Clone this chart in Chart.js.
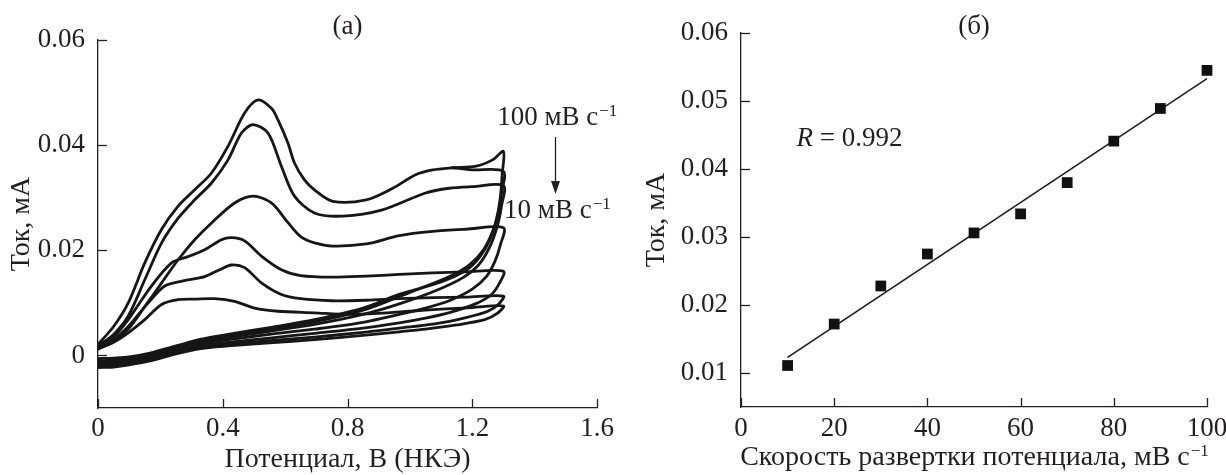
<!DOCTYPE html>
<html lang="ru">
<head>
<meta charset="utf-8">
<title>ЦВА и зависимость тока от скорости развертки</title>
<script src="https://cdn.jsdelivr.net/npm/chart.js@4.4.1/dist/chart.umd.min.js"></script>
<style>
  html, body { margin: 0; padding: 0; background: #fff; }
  #wrap { position: relative; width: 1226px; height: 475px; }
  canvas { position: absolute; top: 0; }
  #chartA { left: 0; z-index: 2; }
  #chartB { left: 613px; z-index: 1; }
</style>
</head>
<body>
<div id="wrap">
  <canvas id="chartA" width="640" height="475"></canvas>
  <canvas id="chartB" width="613" height="475"></canvas>
</div>
<script>
// (а) циклические вольтамперограммы: потенциал, В / ток, мА (прямой ход, затем обратный)
const cv1V = [0, 0.05, 0.097, 0.15, 0.204, 0.257, 0.31, 0.364, 0.417, 0.47, 0.513, 0.556, 0.577, 0.609, 0.63, 0.662, 0.694, 0.753, 0.86, 0.945, 1.02, 1.073, 1.137, 1.212, 1.265, 1.30,
  1.296, 1.29, 1.278, 1.258, 1.225, 1.18, 1.10, 0.966, 0.85, 0.694, 0.55, 0.417, 0.33, 0.25, 0.17, 0.1, 0.05, 0];
const cv1I = [0.0021, 0.0055, 0.0100, 0.0176, 0.0240, 0.0284, 0.0315, 0.0347, 0.0398, 0.0461, 0.0486, 0.0470, 0.0448, 0.0404, 0.0366, 0.0334, 0.0315, 0.0293, 0.0296, 0.0318, 0.0344, 0.0353, 0.0357, 0.0360, 0.0372, 0.0388,
  0.0345, 0.0300, 0.0260, 0.0222, 0.0188, 0.0162, 0.0140, 0.0116, 0.0090, 0.0068, 0.0053, 0.0040, 0.0031, 0.0018, 0.0005, -0.0003, -0.0005, -0.0006];

const cv1bV = [1.137, 1.2, 1.30, 1.294, 1.284, 1.265, 1.235, 1.19, 1.12, 1.0, 0.85, 0.694, 0.55, 0.417, 0.33, 0.25, 0.17, 0.1, 0.05, 0];
const cv1bI = [0.0357, 0.0353, 0.0350, 0.0310, 0.0272, 0.0235, 0.0200, 0.0172, 0.0148, 0.0120, 0.0086, 0.0064, 0.0050, 0.0038, 0.0029, 0.0016, 0.0003, -0.0006, -0.0009, -0.0010];

const cv2V = [0, 0.05, 0.097, 0.15, 0.204, 0.257, 0.31, 0.364, 0.417, 0.46, 0.497, 0.545, 0.588, 0.63, 0.694, 0.785, 0.912, 1.05, 1.126, 1.2, 1.30,
  1.294, 1.28, 1.255, 1.22, 1.17, 1.09, 0.966, 0.85, 0.694, 0.55, 0.417, 0.33, 0.25, 0.17, 0.1, 0.05, 0];
const cv2I = [0.0018, 0.0040, 0.0075, 0.0144, 0.0214, 0.0261, 0.0296, 0.0328, 0.0372, 0.0423, 0.0439, 0.0423, 0.0360, 0.0303, 0.0271, 0.0265, 0.0277, 0.0309, 0.0318, 0.0321, 0.0323,
  0.0285, 0.0245, 0.0205, 0.0172, 0.0148, 0.0125, 0.0098, 0.0078, 0.0059, 0.0046, 0.0034, 0.0026, 0.0014, 0.0001, -0.0008, -0.0012, -0.0013];

const cv3V = [0, 0.05, 0.097, 0.15, 0.204, 0.257, 0.31, 0.364, 0.438, 0.497, 0.556, 0.61, 0.65, 0.694, 0.753, 0.86, 0.966, 1.073, 1.18, 1.30,
  1.29, 1.272, 1.245, 1.2, 1.13, 1.05, 0.966, 0.85, 0.694, 0.55, 0.417, 0.33, 0.25, 0.17, 0.1, 0.05, 0];
const cv3I = [0.0015, 0.0028, 0.0050, 0.0093, 0.0138, 0.0182, 0.0220, 0.0252, 0.0290, 0.0303, 0.0290, 0.0252, 0.0226, 0.0214, 0.0208, 0.0212, 0.0228, 0.0236, 0.0240, 0.0243,
  0.0210, 0.0178, 0.0150, 0.0126, 0.0105, 0.0090, 0.0078, 0.0063, 0.0050, 0.0040, 0.0030, 0.0023, 0.0011, -0.0002, -0.0011, -0.0015, -0.0016];

const cv4V = [0, 0.05, 0.097, 0.17, 0.236, 0.289, 0.342, 0.396, 0.428, 0.47, 0.524, 0.588, 0.65, 0.75, 0.86, 0.966, 1.073, 1.18, 1.30,
  1.285, 1.26, 1.21, 1.13, 1.05, 0.966, 0.85, 0.694, 0.55, 0.417, 0.33, 0.25, 0.17, 0.1, 0.05, 0];
const cv4I = [0.0018, 0.0035, 0.0068, 0.0131, 0.0176, 0.0188, 0.0201, 0.0220, 0.0224, 0.0218, 0.0189, 0.0163, 0.0152, 0.0149, 0.0151, 0.0154, 0.0157, 0.0159, 0.0160,
  0.0135, 0.0115, 0.0098, 0.0082, 0.0071, 0.0062, 0.0052, 0.0042, 0.0033, 0.0025, 0.0019, 0.0008, -0.0005, -0.0014, -0.0018, -0.0019];

const cv5V = [0, 0.05, 0.097, 0.161, 0.214, 0.267, 0.342, 0.39, 0.428, 0.47, 0.524, 0.588, 0.65, 0.75, 0.86, 0.966, 1.073, 1.18, 1.30,
  1.285, 1.25, 1.18, 1.08, 0.966, 0.85, 0.694, 0.55, 0.417, 0.33, 0.25, 0.17, 0.1, 0.05, 0];
const cv5I = [0.0015, 0.0030, 0.0055, 0.0100, 0.0132, 0.0141, 0.0150, 0.0163, 0.0172, 0.0167, 0.0138, 0.0116, 0.0108, 0.0104, 0.0105, 0.0108, 0.0110, 0.0111, 0.0113,
  0.0098, 0.0084, 0.0072, 0.0060, 0.0052, 0.0044, 0.0035, 0.0028, 0.0021, 0.0016, 0.0005, -0.0008, -0.0016, -0.0020, -0.0021];

const cv6V = [0, 0.05, 0.097, 0.15, 0.204, 0.257, 0.31, 0.374, 0.438, 0.502, 0.577, 0.694, 0.8, 0.9, 1.0, 1.1, 1.2, 1.30,
  1.28, 1.24, 1.15, 1.05, 0.966, 0.85, 0.694, 0.55, 0.417, 0.33, 0.25, 0.17, 0.1, 0.05, 0];
const cv6I = [0.0012, 0.0025, 0.0043, 0.0068, 0.0097, 0.0106, 0.0107, 0.0108, 0.0103, 0.0090, 0.0084, 0.0081, 0.0078, 0.0080, 0.0084, 0.0088, 0.0091, 0.0094,
  0.0080, 0.0068, 0.0058, 0.0050, 0.0045, 0.0038, 0.0030, 0.0024, 0.0018, 0.0013, 0.0003, -0.0010, -0.0018, -0.0022, -0.0023];

const xTicksA = [0, 0.4, 0.8, 1.2, 1.6];
const yTicksA = [0, 0.02, 0.04, 0.06];

// (б) ток пика от скорости развертки
const scanRate = [10, 20, 30, 40, 50, 60, 70, 80, 90, 100];
const peakCurrent = [0.0111, 0.0172, 0.0228, 0.0275, 0.0306, 0.0334, 0.0380, 0.0441, 0.0489, 0.0545];
const fitRate = [10, 100];
const fitCurrent = [0.0123, 0.0533];

const xTicksB = [0, 20, 40, 60, 80, 100];
const yTicksB = [0.01, 0.02, 0.03, 0.04, 0.05, 0.06];

const serif = '"Liberation Serif", "Times New Roman", serif';
const ink = '#231f20';
const tickSize = 27;
const titleSize = 28;
const noteSize = 27;

Chart.defaults.font.family = serif;
Chart.defaults.color = ink;

const toPoints = (xs, ys) => xs.map((v, i) => ({ x: v, y: ys[i] }));
const fmtTick = (v) => String(Number(Number(v).toFixed(4)));

// текст со степенью (мВ с^-1)
function textWithPower(ctx, main, power, x, y, size, align) {
  const small = Math.round(size * 0.62);
  ctx.font = `${size}px ${serif}`;
  const w1 = ctx.measureText(main).width;
  ctx.font = `${small}px ${serif}`;
  const w2 = ctx.measureText(power).width;
  const left = align === 'center' ? x - (w1 + w2) / 2 : x;
  ctx.textAlign = 'left';
  ctx.textBaseline = 'alphabetic';
  ctx.font = `${size}px ${serif}`;
  ctx.fillText(main, left, y);
  ctx.font = `${small}px ${serif}`;
  ctx.fillText(power, left + w1 + 1, y - size * 0.33);
}

// засечки внутрь области графика
const innerTicks = {
  id: 'innerTicks',
  afterDraw(chart) {
    const { ctx, chartArea, scales: { x, y } } = chart;
    ctx.save();
    ctx.strokeStyle = ink;
    ctx.lineWidth = 1.3;
    x.ticks.forEach((t) => {
      const px = Math.round(x.getPixelForValue(t.value)) + 0.5;
      ctx.beginPath();
      ctx.moveTo(px, chartArea.bottom);
      ctx.lineTo(px, chartArea.bottom - 9);
      ctx.stroke();
    });
    y.ticks.forEach((t) => {
      const py = Math.round(y.getPixelForValue(t.value)) + 0.5;
      ctx.beginPath();
      ctx.moveTo(chartArea.left, py);
      ctx.lineTo(chartArea.left + 9, py);
      ctx.stroke();
    });
    ctx.restore();
  }
};

const notesA = {
  id: 'notesA',
  afterDraw(chart) {
    const { ctx, chartArea, scales: { x } } = chart;
    ctx.save();
    ctx.fillStyle = ink;
    ctx.strokeStyle = ink;
    ctx.font = `${noteSize}px ${serif}`;
    ctx.textAlign = 'center';
    ctx.textBaseline = 'middle';
    ctx.fillText('(а)', (chartArea.left + chartArea.right) / 2, 27);

    textWithPower(ctx, '100 мВ с', '−1', x.getPixelForValue(1.28), 125, noteSize, 'left');
    textWithPower(ctx, '10 мВ с', '−1', x.getPixelForValue(1.302), 218, noteSize, 'left');

    // стрелка
    const ax = Math.round(x.getPixelForValue(1.466)) + 0.5;
    ctx.lineWidth = 1.3;
    ctx.beginPath();
    ctx.moveTo(ax, 137);
    ctx.lineTo(ax, 185);
    ctx.stroke();
    ctx.beginPath();
    ctx.moveTo(ax - 4.5, 181);
    ctx.lineTo(ax + 4.5, 181);
    ctx.lineTo(ax, 194);
    ctx.closePath();
    ctx.fill();
    ctx.restore();
  }
};

const notesB = {
  id: 'notesB',
  afterDraw(chart) {
    const { ctx, chartArea, scales: { x } } = chart;
    ctx.save();
    ctx.fillStyle = ink;
    ctx.font = `${noteSize}px ${serif}`;
    ctx.textAlign = 'center';
    ctx.textBaseline = 'middle';
    const cx = (chartArea.left + chartArea.right) / 2;
    ctx.fillText('(б)', cx, 27);

    // R = 0.992
    const rx = x.getPixelForValue(11.9);
    ctx.textAlign = 'left';
    ctx.textBaseline = 'alphabetic';
    ctx.font = `italic ${noteSize}px ${serif}`;
    ctx.fillText('R', rx, 146);
    const rw = ctx.measureText('R').width;
    ctx.font = `${noteSize}px ${serif}`;
    ctx.fillText(' = 0.992', rx + rw, 146);

    // подпись оси X со степенью
    textWithPower(ctx, 'Скорость развертки потенциала, мВ с', '−1', cx, 465, titleSize, 'center');
    ctx.restore();
  }
};

function axisBase(ticksArr, min, max) {
  return {
    type: 'linear',
    min: min,
    max: max,
    afterBuildTicks: (s) => { s.ticks = ticksArr.map((v) => ({ value: v })); },
    grid: { display: false, drawTicks: false },
    border: { display: true, color: ink, width: 1.3 },
    ticks: { font: { size: tickSize }, color: ink, autoSkip: false, maxRotation: 0, callback: fmtTick }
  };
}

const cvSets = [
  [cv1V, cv1I], [cv1bV, cv1bI], [cv2V, cv2I], [cv3V, cv3I],
  [cv4V, cv4I], [cv5V, cv5I], [cv6V, cv6I]
];

const xA = axisBase(xTicksA, 0, 1.6);
xA.ticks.padding = 5;
xA.afterFit = (s) => { s.height = 475 - 408; s.paddingLeft = 0; s.paddingRight = 0; };
xA.title = { display: true, text: 'Потенциал, В (НКЭ)', color: ink, font: { size: titleSize, lineHeight: 1 }, padding: { top: 0, bottom: 1 } };

const yA = axisBase(yTicksA, -0.01, 0.06);
yA.ticks.padding = 13;
yA.afterFit = (s) => { s.width = 98; s.paddingTop = 0; s.paddingBottom = 0; };
yA.title = { display: true, text: 'Ток, мА', color: ink, font: { size: titleSize, lineHeight: 1 }, padding: { top: 8, bottom: 0 } };

new Chart(document.getElementById('chartA'), {
  type: 'scatter',
  data: {
    datasets: cvSets.map(([v, i]) => ({
      data: toPoints(v, i),
      showLine: true,
      borderColor: '#161616',
      borderWidth: 2.8,
      pointRadius: 0,
      tension: 0.3,
      borderJoinStyle: 'round',
      borderCapStyle: 'round',
      fill: false
    }))
  },
  options: {
    responsive: false,
    animation: false,
    devicePixelRatio: 1,
    layout: { padding: { top: 40, right: 43, left: 0, bottom: 0 } },
    plugins: { legend: { display: false }, tooltip: { enabled: false } },
    scales: { x: xA, y: yA }
  },
  plugins: [innerTicks, notesA]
});

const xB = axisBase(xTicksB, 0, 100);
xB.ticks.padding = 6;
xB.afterFit = (s) => { s.height = 475 - 407; s.paddingLeft = 0; s.paddingRight = 0; };

const yB = axisBase(yTicksB, 0.005, 0.06);
yB.ticks.padding = 13;
yB.afterFit = (s) => { s.width = 128; s.paddingTop = 0; s.paddingBottom = 0; };
yB.title = { display: true, text: 'Ток, мА', color: ink, font: { size: titleSize, lineHeight: 1 }, padding: { top: 30, bottom: 0 } };

new Chart(document.getElementById('chartB'), {
  type: 'scatter',
  data: {
    datasets: [
      {
        data: toPoints(scanRate, peakCurrent),
        pointStyle: 'rect',
        pointRadius: 7.6,
        backgroundColor: '#111',
        borderWidth: 0,
        clip: false
      },
      {
        data: toPoints(fitRate, fitCurrent),
        showLine: true,
        borderColor: '#1a1a1a',
        borderWidth: 1.6,
        pointRadius: 0
      }
    ]
  },
  options: {
    responsive: false,
    animation: false,
    devicePixelRatio: 1,
    layout: { padding: { top: 33, right: 19, left: 0, bottom: 0 } },
    plugins: { legend: { display: false }, tooltip: { enabled: false } },
    scales: { x: xB, y: yB }
  },
  plugins: [innerTicks, notesB]
});
</script>
</body>
</html>
